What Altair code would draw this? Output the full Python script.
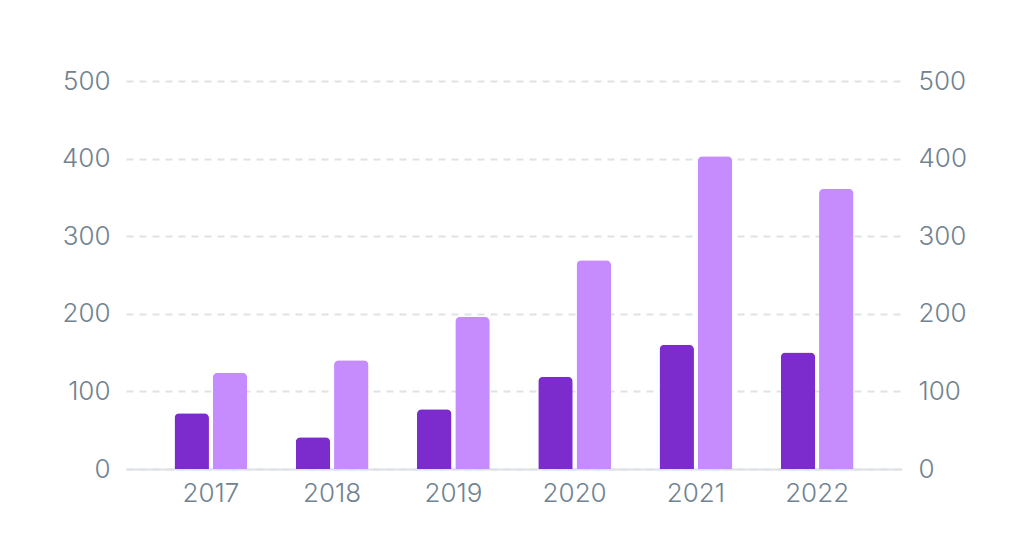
import altair as alt
import pandas as pd

years = ["2017", "2018", "2019", "2020", "2021", "2022"]
series_a = [72, 41, 77, 119, 160, 150]
series_b = [124, 140, 196, 269, 403, 361]
series_names = ["A", "B"]
colors = ["#7c2bcc", "#c68cfd"]
y_ticks = [0, 100, 200, 300, 400, 500]

rows = []
for i, y in enumerate(years):
    rows.append({"year": y, "series": series_names[0], "value": series_a[i]})
    rows.append({"year": y, "series": series_names[1], "value": series_b[i]})
df = pd.DataFrame(rows)

FONT = "Inter"
LABEL_COLOR = "#718290"
FS = 26
FW = 300

base = alt.Chart(df)

bars = base.mark_bar(cornerRadiusTopLeft=5, cornerRadiusTopRight=5).encode(
    x=alt.X("year:N", sort=years, title=None,
            scale=alt.Scale(paddingInner=0.4, paddingOuter=0.4),
            axis=alt.Axis(labelAngle=0, labelFont=FONT, labelFontSize=FS,
                          labelFontWeight=FW,
                          labelColor=LABEL_COLOR, labelPadding=11, ticks=False,
                          domainColor="#dde1e6", domainWidth=2, grid=False)),
    xOffset=alt.XOffset("series:N", sort=series_names,
                        scale=alt.Scale(paddingInner=0.1, paddingOuter=0)),
    y=alt.Y("value:Q", title=None,
            scale=alt.Scale(domain=[0, 500], nice=False),
            axis=alt.Axis(values=y_ticks, labelFont=FONT, labelFontSize=FS,
                          labelFontWeight=FW,
                          labelColor=LABEL_COLOR, labelPadding=16, ticks=False,
                          domain=False, grid=True, gridColor="#dfe2e6",
                          gridWidth=2, gridDash=[7, 6])),
    color=alt.Color("series:N", sort=series_names,
                    scale=alt.Scale(domain=series_names, range=colors),
                    legend=None),
)

right = base.mark_bar(opacity=0).encode(
    x=alt.X("year:N", sort=years),
    y=alt.Y("value:Q", title=None,
            scale=alt.Scale(domain=[0, 500], nice=False),
            axis=alt.Axis(orient="right", values=y_ticks, labelFont=FONT,
                          labelFontSize=FS, labelFontWeight=FW,
                          labelColor=LABEL_COLOR,
                          labelPadding=16, ticks=False, domain=False,
                          grid=False)),
)

chart = alt.layer(bars, right).resolve_scale(y="independent").properties(
    width=776, height=388,
    autosize=alt.AutoSizeParams(type="none"),
    padding={"left": 118, "top": 73, "right": 110, "bottom": 70},
).configure_view(stroke=None)

chart.save("out.html", embed_options={"renderer": "svg", "actions": False})
